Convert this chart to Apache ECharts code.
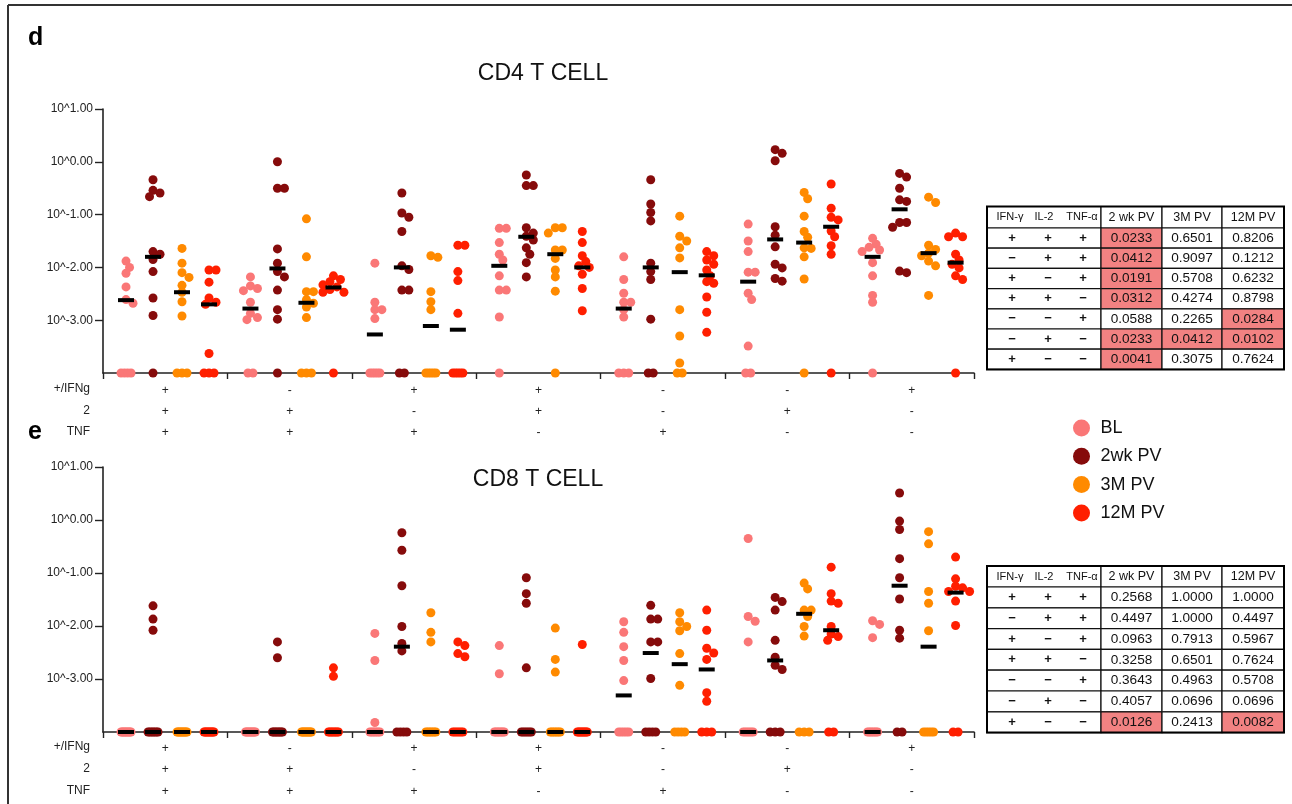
<!DOCTYPE html>
<html>
<head>
<meta charset="utf-8">
<script src="https://cdn.jsdelivr.net/npm/echarts@6/dist/echarts.min.js"></script>
<style>html,body{margin:0;padding:0;background:#fff;}#c{width:1292px;height:804px;}</style>
</head>
<body>
<div id="c"></div>
<script>
// ---------- data (values are log10 exponents; null = 0, drawn on the axis) ----------
const seriesNames = ['BL', '2wk PV', '3M PV', '12M PV'];
const seriesColors = ['#FA7777', '#860B0B', '#FF8A00', '#FF1F00'];
const groups = [['+','+','+'], ['-','+','+'], ['+','-','+'], ['+','+','-'], ['-','-','+'], ['-','+','-'], ['+','-','-']];
const rowLabels = ['+/IFNg', '2', 'TNF'];
const yTicks = [-3, -2, -1, 0, 1];
const N = null;

const cd4_BL = [
  [-1.88,-2.0,-2.11,-2.37,-2.61,-2.68,N,N,N,N],
  [-2.18,-2.35,-2.40,-2.44,-2.66,-2.87,-2.95,-2.99,N,N],
  [-1.92,-2.66,-2.80,-2.80,-2.97,N,N,N,N,N],
  [-1.26,-1.26,-1.53,-1.75,-1.86,-2.16,-2.43,-2.43,-2.94,N],
  [-1.80,-2.23,-2.49,-2.66,-2.66,-2.80,-2.94,N,N,N],
  [-1.18,-1.50,-1.70,-2.09,-2.09,-2.49,-2.61,-3.49,N,N],
  [-1.45,-1.56,-1.62,-1.67,-1.70,-1.91,-2.16,-2.53,-2.66,N]
];
const cd4_2wk = [
  [-0.34,-0.54,-0.59,-0.66,-1.70,-1.75,-1.85,-2.08,-2.58,-2.91,N],
  [0.0,-0.50,-0.50,-1.65,-1.92,-2.08,-2.18,-2.43,-2.80,-2.98,N],
  [-0.59,-0.97,-1.05,-1.32,-1.97,-2.04,-2.43,-2.43,N,N],
  [-0.25,-0.45,-0.45,-1.25,-1.35,-1.41,-1.48,-1.63,-1.75,-1.91,-2.18],
  [-0.34,-0.80,-0.96,-1.12,-1.92,-2.08,-2.23,-2.98,N,N],
  [0.23,0.16,0.02,-1.23,-1.39,-1.61,-1.94,-2.01,-2.21,-2.26],
  [-0.22,-0.29,-0.50,-0.72,-0.75,-1.15,-1.15,-1.24,-2.07,-2.10]
];
const cd4_3M = [
  [-1.64,-1.92,-2.10,-2.19,-2.34,-2.47,-2.65,-2.92,N,N,N],
  [-1.08,-1.80,-2.46,-2.46,-2.61,-2.68,-2.75,-2.95,N,N,N],
  [-1.78,-1.81,-2.46,-2.65,-2.80,N,N,N,N,N],
  [-1.25,-1.25,-1.35,-1.67,-1.67,-1.83,-2.05,-2.18,-2.45,N],
  [-1.03,-1.41,-1.50,-1.63,-1.82,-2.80,-3.30,-3.81,N,N],
  [-0.58,-0.70,-1.03,-1.32,-1.43,-1.63,-1.64,-1.80,-2.22,N],
  [-0.67,-0.77,-1.58,-1.66,-1.73,-1.78,-1.88,-1.97,-2.53]
];
const cd4_12M = [
  [-2.05,-2.05,-2.28,-2.58,-2.66,-2.70,-3.63,N,N,N],
  [-2.16,-2.23,-2.27,-2.33,-2.37,-2.42,-2.47,-2.47,N],
  [-1.58,-1.58,-2.08,-2.25,-2.87,N,N,N,N,N],
  [-1.32,-1.53,-1.78,-1.89,-1.97,-2.00,-2.13,-2.40,-2.82],
  [-1.70,-1.78,-1.86,-1.94,-2.05,-2.16,-2.27,-2.30,-2.56,-2.85,-3.23],
  [-0.42,-0.88,-1.05,-1.10,-1.31,-1.42,-1.59,-1.75,N],
  [-1.35,-1.42,-1.42,-1.75,-1.86,-1.94,-2.01,-2.16,-2.23,N]
];
const cd4_med_BL  = [-2.62, -2.78, -3.27, -1.97, -2.78, -2.27, -1.80];
const cd4_med_2wk = [-1.80, -2.02, -2.00, -1.42, -2.00, -1.47, -0.90];
const cd4_med_3M  = [-2.47, -2.67, -3.11, -1.75, -2.09, -1.53, -1.73];
const cd4_med_12M = [-2.70, -2.38, -3.18, -2.00, -2.15, -1.23, -1.91];

const cd8_BL = [
  [N,N,N,N,N,N,N,N,N,N],
  [N,N,N,N,N,N,N,N,N,N],
  [-2.14,-2.65,-3.82,N,N,N,N,N,N,N],
  [-2.37,-2.90,N,N,N,N,N,N,N,N],
  [-1.92,-2.12,-2.39,-2.65,-3.03,N,N,N,N,N],
  [-0.35,-1.82,-1.91,-2.30,N,N,N,N,N,N],
  [-1.90,-1.97,-2.22,N,N,N,N,N,N,N]
];
const cd8_2wk = [
  [-1.62,-1.87,-2.08,N,N,N,N,N,N,N],
  [-2.30,-2.60,N,N,N,N,N,N,N,N],
  [-0.24,-0.57,-1.24,-2.01,-2.33,-2.47,N,N,N,N],
  [-1.09,-1.39,-1.57,-2.79,N,N,N,N,N,N],
  [-1.61,-1.87,-1.87,-2.30,-2.30,-2.99,N,N,N,N],
  [-1.46,-1.54,-1.70,-2.27,-2.59,-2.74,-2.82,N,N,N],
  [0.51,-0.02,-0.18,-0.73,-1.09,-1.49,-2.08,-2.23,N,N]
];
const cd8_3M = [
  [N,N,N,N,N,N,N,N,N,N],
  [N,N,N,N,N,N,N,N,N,N],
  [-1.75,-2.12,-2.30,N,N,N,N,N,N,N],
  [-2.04,-2.63,-2.87,N,N,N,N,N,N,N],
  [-1.75,-1.92,-2.01,-2.09,-2.52,-3.12,N,N,N,N],
  [-1.19,-1.30,-1.70,-1.70,-1.82,-2.01,-2.19,N,N,N],
  [-0.22,-0.45,-1.35,-1.57,-2.09,N,N,N,N,N]
];
const cd8_12M = [
  [N,N,N,N,N,N,N,N,N,N],
  [-2.79,-2.95,N,N,N,N,N,N,N,N],
  [-2.30,-2.37,-2.52,-2.58,N,N,N,N,N,N],
  [-2.35,N,N,N,N,N,N,N,N,N],
  [-1.70,-2.08,-2.42,-2.51,-2.63,-3.26,-3.42,N,N,N],
  [-0.89,-1.39,-1.53,-1.57,-2.01,-2.15,-2.20,-2.27,N,N],
  [-0.70,-1.11,-1.25,-1.28,-1.35,-1.35,-1.53,-1.99,N,N]
];
const cd8_med_BL  = [N, N, N, N, -3.31, N, N];
const cd8_med_2wk = [N, N, -2.39, N, -2.51, -2.65, -1.24];
const cd8_med_3M  = [N, N, N, N, -2.72, -1.77, -2.39];
const cd8_med_12M = [N, N, N, N, -2.82, -2.08, -1.37];

// p-value tables
const tableHeader = ['IFN-γ', 'IL-2', 'TNF-α', '2 wk PV', '3M PV', '12M PV'];
const tableSigns = [['+','+','+'], ['−','+','+'], ['+','−','+'], ['+','+','−'], ['−','−','+'], ['−','+','−'], ['+','−','−']];
const cd4_p = [
  ['0.0233','0.6501','0.8206'],
  ['0.0412','0.9097','0.1212'],
  ['0.0191','0.5708','0.6232'],
  ['0.0312','0.4274','0.8798'],
  ['0.0588','0.2265','0.0284'],
  ['0.0233','0.0412','0.0102'],
  ['0.0041','0.3075','0.7624']
];
const cd8_p = [
  ['0.2568','1.0000','1.0000'],
  ['0.4497','1.0000','0.4497'],
  ['0.0963','0.7913','0.5967'],
  ['0.3258','0.6501','0.7624'],
  ['0.3643','0.4963','0.5708'],
  ['0.4057','0.0696','0.0696'],
  ['0.0126','0.2413','0.0082']
];
const ALPHA = 0.05;

// ---------- layout ----------
const FONT = '"Liberation Sans", Arial, Helvetica, sans-serif';
const YMIN = -4, YMAX = 1;
const OFF = [0.185, 0.402, 0.635, 0.852];
const G = [
  { left: 103, top: 109, width: 871, height: 264, title: 'CD4 T CELL', tx: 543, ty: 74, rows: [389, 410.5, 431.5], lblMargin: 7.5, lblLH: 21 },
  { left: 103, top: 467, width: 871, height: 265, title: 'CD8 T CELL', tx: 538, ty: 480, rows: [747, 769, 790.5], lblMargin: 5.5, lblLH: 21.5 }
];

function swarm(groupData, j, pxX, pxY) {
  const out = [];
  groupData.forEach((vals, g) => {
    const cx = g + OFF[j];
    const zeros = vals.filter(v => v === null).length;
    const nz = vals.filter(v => v !== null).slice().sort((a, b) => b - a);
    const spread = zeros > 1 ? Math.min(5, (zeros - 1) * 2.5) : 0;
    for (let k = 0; k < zeros; k++) {
      const ox = zeros > 1 ? -spread + 2 * spread * k / (zeros - 1) : 0;
      out.push([cx + ox / pxX, YMIN]);
    }
    const placed = [];
    nz.forEach(v => {
      const py = v * pxY;
      for (let s = 0; s < 60; s++) {
        const step = s === 0 ? 0 : (s % 2 === 1 ? Math.ceil(s / 2) : -s / 2);
        const ox = step * 3.5;
        if (placed.every(p => (p[0] - ox) ** 2 + (p[1] - py) ** 2 >= 6.5 * 6.5)) {
          placed.push([ox, py]);
          out.push([cx + ox / pxX, v]);
          break;
        }
      }
    });
  });
  return out;
}

const panels = [
  { pts: [cd4_BL, cd4_2wk, cd4_3M, cd4_12M], med: [cd4_med_BL, cd4_med_2wk, cd4_med_3M, cd4_med_12M] },
  { pts: [cd8_BL, cd8_2wk, cd8_3M, cd8_12M], med: [cd8_med_BL, cd8_med_2wk, cd8_med_3M, cd8_med_12M] }
];

const grid = [], xAxis = [], yAxis = [], series = [], graphic = [];
G.forEach((g, i) => {
  grid.push({ left: g.left, top: g.top, width: g.width, height: g.height, containLabel: false });
  xAxis.push({ type: 'value', gridIndex: i, min: 0, max: 7, interval: 1, show: false });
  xAxis.push({
    type: 'category', gridIndex: i, position: 'bottom', boundaryGap: true,
    data: groups.map(c => c.join('\n')),
    axisLine: { show: true, lineStyle: { color: '#222', width: 1.6 } },
    axisTick: { show: true, length: 6, lineStyle: { color: '#222', width: 1.4 } },
    axisLabel: { margin: g.lblMargin, fontSize: 12, lineHeight: g.lblLH, color: '#222', fontFamily: FONT, interval: 0 },
    splitLine: { show: false }
  });
  yAxis.push({
    type: 'value', gridIndex: i, min: YMIN, max: YMAX, interval: 1,
    axisLine: { show: true, lineStyle: { color: '#222', width: 1.6 } },
    axisTick: { show: true, length: 8, customValues: yTicks, lineStyle: { color: '#222', width: 1.4 } },
    axisLabel: { margin: 10, fontSize: 12, color: '#222', fontFamily: FONT, customValues: yTicks,
      formatter: v => (v <= YMIN ? '' : '10^' + v.toFixed(2)) },
    splitLine: { show: false }
  });
  const pxX = g.width / 7, pxY = g.height / (YMAX - YMIN);
  const p = panels[i];
  p.pts.forEach((arr, j) => {
    series.push({
      type: 'scatter', name: seriesNames[j], xAxisIndex: 2 * i, yAxisIndex: i,
      data: swarm(arr, j, pxX, pxY), symbol: 'circle', symbolSize: 9,
      itemStyle: { color: seriesColors[j], opacity: 1 }, z: 2, clip: false, silent: true
    });
  });
  const medData = [];
  p.med.forEach((arr, j) => arr.forEach((m, gi) => medData.push([gi + OFF[j], m === null ? YMIN : m])));
  series.push({
    type: 'scatter', name: 'median', xAxisIndex: 2 * i, yAxisIndex: i, data: medData,
    symbol: 'rect', symbolSize: [16, 4], itemStyle: { color: '#000', opacity: 1 }, z: 4, clip: false, silent: true
  });
  // title
  graphic.push({ type: 'text', x: g.tx, y: g.ty, style: { text: g.title, fontSize: 23, fontFamily: FONT, fill: '#111',
    align: 'center', verticalAlign: 'middle', textAlign: 'center', textVerticalAlign: 'middle' } });
  // row labels of the combination axis
  rowLabels.forEach((t, r) => graphic.push({ type: 'text', x: 90, y: g.rows[r], style: { text: t, fontSize: 12, fontFamily: FONT, fill: '#222',
    align: 'right', verticalAlign: 'middle', textAlign: 'right', textVerticalAlign: 'middle' } }));
});

// panel letters
graphic.push({ type: 'text', x: 28, y: 38, style: { text: 'd', fontSize: 25, fontWeight: 'bold', fontFamily: FONT, fill: '#000', align: 'left', verticalAlign: 'middle', textAlign: 'left', textVerticalAlign: 'middle' } });
graphic.push({ type: 'text', x: 28, y: 432, style: { text: 'e', fontSize: 25, fontWeight: 'bold', fontFamily: FONT, fill: '#000', align: 'left', verticalAlign: 'middle', textAlign: 'left', textVerticalAlign: 'middle' } });
// figure frame
graphic.push({ type: 'line', shape: { x1: 8, y1: 5, x2: 1292, y2: 5 }, style: { stroke: '#333', lineWidth: 2 } });
graphic.push({ type: 'line', shape: { x1: 8, y1: 5, x2: 8, y2: 804 }, style: { stroke: '#333', lineWidth: 2 } });

// tables
function txt(x, y, t, size, weight) {
  return { type: 'text', x: x, y: y, z: 10, style: { text: t, fontSize: size, fontWeight: weight || 'normal', fontFamily: FONT, fill: '#111',
    align: 'center', verticalAlign: 'middle', textAlign: 'center', textVerticalAlign: 'middle' } };
}
function buildTable(top, headH, rowH, pvals) {
  const cols = [987, 1101, 1162, 1222, 1284];
  const signX = [1012, 1048, 1083];
  const headX = [1010, 1044, 1082];
  const els = [];
  for (let r = -1; r < 7; r++) {
    const y0 = r < 0 ? top : top + headH + r * rowH;
    const h = r < 0 ? headH : rowH;
    for (let c = 0; c < 4; c++) {
      const hi = r >= 0 && c > 0 && parseFloat(pvals[r][c - 1]) < ALPHA;
      els.push({ type: 'rect', z: 5, shape: { x: cols[c], y: y0, width: cols[c + 1] - cols[c], height: h },
        style: { fill: hi ? '#F28282' : '#fff', stroke: '#111', lineWidth: 1.2 } });
    }
    const cy = y0 + h / 2;
    if (r < 0) {
      for (let k = 0; k < 3; k++) els.push(txt(headX[k], cy, tableHeader[k], 11));
      for (let k = 0; k < 3; k++) els.push(txt((cols[k + 1] + cols[k + 2]) / 2, cy, tableHeader[k + 3], 12.5));
    } else {
      for (let k = 0; k < 3; k++) els.push(txt(signX[k], cy, tableSigns[r][k], 13, 'bold'));
      for (let k = 0; k < 3; k++) els.push(txt((cols[k + 1] + cols[k + 2]) / 2, cy, pvals[r][k], 13.6));
    }
  }
  els.push({ type: 'rect', z: 6, shape: { x: cols[0], y: top, width: cols[4] - cols[0], height: headH + 7 * rowH },
    style: { fill: 'none', stroke: '#000', lineWidth: 2 } });
  return els;
}
graphic.push(...buildTable(206.5, 21.5, 20.2, cd4_p));
graphic.push(...buildTable(566, 21, 20.8, cd8_p));

const chart = echarts.init(document.getElementById('c'), null, { renderer: 'canvas' });
chart.setOption({
  animation: false,
  backgroundColor: '#fff',
  textStyle: { fontFamily: FONT },
  grid: grid, xAxis: xAxis, yAxis: yAxis, series: series, graphic: graphic,
  legend: {
    data: seriesNames, orient: 'vertical', left: 1068, top: 414,
    icon: 'circle', itemWidth: 28, itemHeight: 17, itemGap: 10.3, symbolKeepAspect: true,
    textStyle: { fontSize: 18, color: '#111', fontFamily: FONT, lineHeight: 18 },
    selectedMode: false
  }
});
</script>
</body>
</html>
